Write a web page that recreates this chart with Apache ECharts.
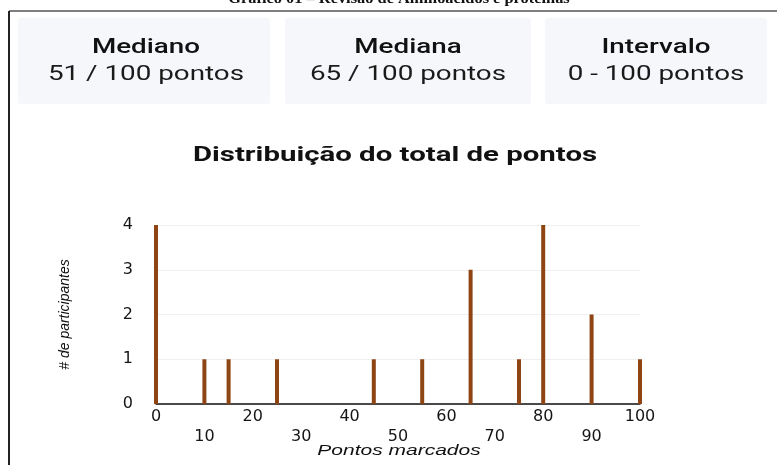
<!DOCTYPE html>
<html><head><meta charset="utf-8">
<script src="https://cdn.jsdelivr.net/npm/echarts@6/dist/echarts.min.js"></script>
<style>html,body{margin:0;padding:0;background:#fff}#c{width:777px;height:465px}</style>
</head><body><div id="c"></div>
<script>
const scores = [0, 10, 15, 25, 45, 55, 65, 75, 80, 90, 100];
const counts = [4, 1, 1, 1, 1, 1, 3, 1, 4, 2, 1];
const cardTitles = ["Mediano", "Mediana", "Intervalo"];
const cardValues = ["51 / 100 pontos", "65 / 100 pontos", "0 - 100 pontos"];
const chartTitle = "Distribuição do total de pontos";
const caption = "Gráfico 01 – Revisão de Aminoácidos e proteínas";
const xName = "Pontos marcados";
const yName = "# de participantes";

const cardBoxes = [[18, 252], [285, 246], [545, 222]];
const cardCenters = [146, 408, 656];
const SX = 1.39;
const graphics = [
  {type:'text', x:399, y:-8, scaleX:1.17, style:{text:caption, x:0, y:0, textAlign:'center', font:'bold 14px "Liberation Serif"', fill:'#111'}},
  {type:'line', shape:{x1:9, y1:11, x2:777, y2:11}, style:{stroke:'#555', lineWidth:1.5}},
  {type:'line', shape:{x1:9, y1:11, x2:9, y2:465}, style:{stroke:'#222', lineWidth:2}}
];
cardBoxes.forEach((b, i) => {
  graphics.push({type:'rect', shape:{x:b[0], y:18, width:b[1], height:86, r:3}, style:{fill:'#f5f7fa'}});
  graphics.push({type:'text', x:cardCenters[i], y:48, scaleX:SX, style:{text:cardTitles[i], x:0, y:0, font:'500 20px Roboto', fill:'#111', textAlign:'center', textVerticalAlign:'middle'}});
  graphics.push({type:'text', x:cardCenters[i], y:75, scaleX:SX, style:{text:cardValues[i], x:0, y:0, font:'20px Roboto', fill:'#1a1a1a', textAlign:'center', textVerticalAlign:'middle'}});
});
graphics.push({type:'text', x:395, y:156, scaleX:1.4, style:{text:chartTitle, x:0, y:0, font:'bold 21px Roboto', fill:'#111', textAlign:'center', textVerticalAlign:'middle'}});
graphics.push({type:'text', x:399, y:451, scaleX:1.4, style:{text:xName, x:0, y:0, font:'italic 15px "Liberation Sans"', fill:'#111', textAlign:'center', textVerticalAlign:'middle'}});

const chart = echarts.init(document.getElementById('c'));
chart.setOption({
  animation:false,
  graphic:graphics,
  grid:{left:156, right:137, top:225, bottom:61},
  xAxis:{type:'value', min:0, max:100, interval:10,
    axisLine:{lineStyle:{color:'#111', width:1.5}}, axisTick:{show:false}, splitLine:{show:false},
    axisLabel:{margin:3, fontFamily:'DejaVu Sans', fontSize:16, color:'#151515', lineHeight:20,
      formatter:(v)=> (v/10)%2===1 ? '\n'+v : String(v)}},
  yAxis:{type:'value', min:0, max:4, interval:1,
    name:yName, nameLocation:'middle', nameGap:84,
    nameTextStyle:{fontFamily:'Liberation Sans', fontStyle:'italic', fontSize:14, color:'#111'},
    axisLine:{show:false}, axisTick:{show:false},
    splitLine:{lineStyle:{color:'#f0f0f0'}},
    axisLabel:{margin:23, fontFamily:'DejaVu Sans', fontSize:16, color:'#151515'}},
  series:[{type:'bar', barWidth:4, itemStyle:{color:'#8f4513'},
    data:scores.map((s,i)=>[s, counts[i]])}]
});
</script></body></html>
